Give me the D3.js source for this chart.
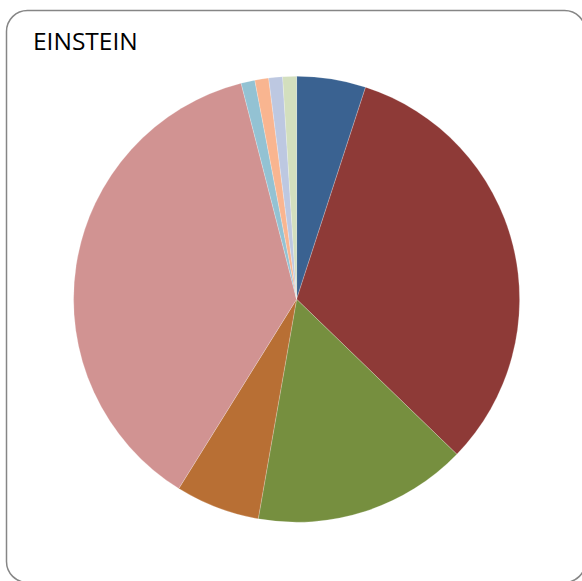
<!DOCTYPE html>
<html>
<head>
<meta charset="utf-8">
<script src="https://cdn.jsdelivr.net/npm/d3@7"></script>
<style>
  html, body { margin: 0; padding: 0; background: #fff; }
  svg { display: block; }
</style>
</head>
<body>
<svg id="chart" width="582" height="581"></svg>
<script>
// Share of each segment (percent), clockwise from 12 o'clock
const categories = ["A", "B", "C", "D", "E", "F", "G", "H", "I"];
const values = [5.0, 32.2, 15.5, 6.1, 37.1, 1.0, 1.0, 1.0, 1.0];
const colors = ["#3A6291", "#8E3A37", "#768F3F", "#B86F34", "#D19392",
                "#93C2D3", "#F9B590", "#BDC8E1", "#D3DFBE"];
const title = "EINSTEIN";

const svg = d3.select("#chart");

// Chart frame
svg.append("rect")
  .attr("x", 6.5).attr("y", 10.5)
  .attr("width", 579).attr("height", 572)
  .attr("rx", 21).attr("ry", 21)
  .attr("fill", "#fff")
  .attr("stroke", "#868686")
  .attr("stroke-width", 1.5);

svg.append("text")
  .attr("x", 33).attr("y", 50)
  .attr("font-family", "'Open Sans', 'Liberation Sans', sans-serif")
  .attr("font-size", 24.5)
  .attr("fill", "#000")
  .text(title);

const cx = 296.6, cy = 299.2, r = 223;

const pie = d3.pie().sort(null).value(d => d.v);
const arc = d3.arc().innerRadius(0).outerRadius(r);
const data = categories.map((c, i) => ({ c, v: values[i], col: colors[i] }));

svg.append("g")
  .attr("transform", `translate(${cx},${cy})`)
  .selectAll("path")
  .data(pie(data))
  .join("path")
  .attr("d", arc)
  .attr("fill", d => d.data.col)
  .attr("stroke", "rgba(255,255,255,0.35)")
  .attr("stroke-width", 0.6);
</script>
</body>
</html>
